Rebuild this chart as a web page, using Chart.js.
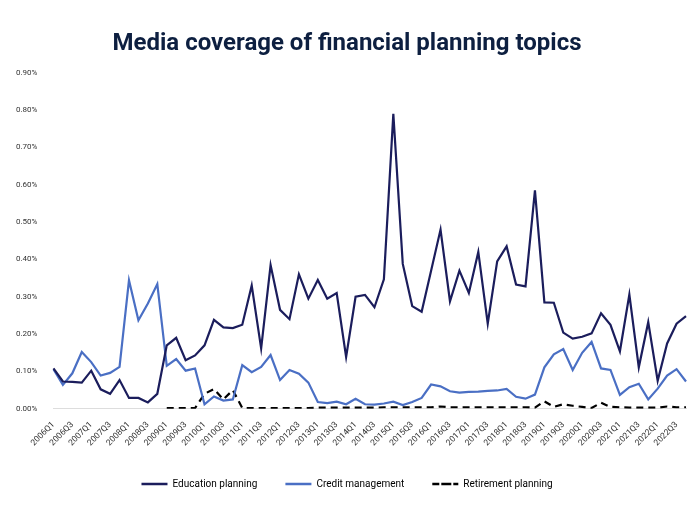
<!DOCTYPE html>
<html>
<head>
<meta charset="utf-8">
<script src="https://cdn.jsdelivr.net/npm/chart.js@4/dist/chart.umd.min.js"></script>
<style>
  body { margin: 0; background: #fff; }
  #wrap { width: 700px; height: 507px; }
</style>
</head>
<body>
<div id="wrap"><canvas id="chart"></canvas></div>
<script>
// quarters 2006Q1 .. 2022Q4
var quarters = [];
for (var y = 2006; y <= 2022; y++) {
    for (var q = 1; q <= 4; q++) quarters.push(y + 'Q' + q);
}

var education = [0.108, 0.073, 0.072, 0.070, 0.102, 0.052, 0.040, 0.077, 0.029, 0.029,
    0.017, 0.040, 0.170, 0.190, 0.130, 0.143, 0.170, 0.238, 0.218, 0.216,
    0.225, 0.330, 0.162, 0.385, 0.265, 0.240, 0.360, 0.295, 0.345, 0.295,
    0.310, 0.139, 0.300, 0.305, 0.272, 0.347, 0.790, 0.388, 0.275, 0.260,
    0.370, 0.480, 0.288, 0.370, 0.310, 0.420, 0.228, 0.395, 0.435, 0.333,
    0.328, 0.585, 0.285, 0.284, 0.204, 0.188, 0.193, 0.202, 0.256, 0.225,
    0.154, 0.306, 0.111, 0.232, 0.075, 0.175, 0.228, 0.248];

var credit = [0.106, 0.064, 0.095, 0.152, 0.125, 0.089, 0.096, 0.112, 0.344, 0.237,
    0.282, 0.334, 0.115, 0.133, 0.102, 0.108, 0.012, 0.033, 0.022, 0.025,
    0.117, 0.098, 0.112, 0.144, 0.077, 0.104, 0.094, 0.070, 0.018, 0.015,
    0.019, 0.012, 0.027, 0.012, 0.011, 0.014, 0.019, 0.010, 0.018, 0.029,
    0.065, 0.060, 0.047, 0.043, 0.045, 0.046, 0.048, 0.049, 0.053, 0.032,
    0.027, 0.038, 0.111, 0.146, 0.160, 0.104, 0.150, 0.179, 0.108, 0.104,
    0.037, 0.058, 0.067, 0.025, 0.054, 0.089, 0.106, 0.073];

var retirement = [null, null, null, null, null, null, null, null, null, null,
    null, null, 0.002, 0.002, 0.002, 0.002, 0.040, 0.053, 0.025, 0.050,
    0.002, 0.002, 0.002, 0.002, 0.002, 0.002, 0.002, 0.002, 0.003, 0.003,
    0.003, 0.003, 0.003, 0.003, 0.003, 0.004, 0.004, 0.004, 0.004, 0.004,
    0.004, 0.006, 0.004, 0.004, 0.004, 0.004, 0.004, 0.004, 0.004, 0.004,
    0.004, 0.003, 0.020, 0.005, 0.012, 0.008, 0.005, 0.002, 0.016, 0.005,
    0.004, 0.003, 0.003, 0.003, 0.003, 0.006, 0.004, 0.004];

var ctx = document.getElementById('chart').getContext('2d');
new Chart(ctx, {
    type: 'line',
    data: {
        labels: quarters,
        datasets: [
            { label: 'Education planning', data: education, borderColor: '#1b1d5c', backgroundColor: '#1b1d5c', borderWidth: 2.2 },
            { label: 'Credit management', data: credit, borderColor: '#4a6fc4', backgroundColor: '#4a6fc4', borderWidth: 2.2 },
            { label: 'Retirement planning', data: retirement, borderColor: '#000', backgroundColor: '#000', borderWidth: 2.2, borderDash: [7, 5] }
        ]
    },
    options: {
        responsive: true,
        maintainAspectRatio: false,
        animation: false,
        elements: { point: { radius: 0 }, line: { tension: 0 } },
        layout: { padding: { left: 8, right: 14, top: 30, bottom: 8 } },
        plugins: {
            tooltip: { enabled: false },
            title: {
                display: true,
                text: 'Media coverage of financial planning topics',
                color: '#0d1f40',
                font: { family: 'Liberation Sans Narrow, Roboto, sans-serif', size: 24, weight: 'bold' },
                padding: { bottom: 14 }
            },
            legend: {
                position: 'bottom',
                labels: {
                    color: '#222',
                    font: { family: 'Roboto, sans-serif', size: 10 },
                    boxWidth: 26, boxHeight: 0, padding: 28,
                    generateLabels: function (chart) {
                        return chart.data.datasets.map(function (d, i) {
                            return { text: d.label, strokeStyle: d.borderColor, fillStyle: d.borderColor,
                                lineWidth: 2.5, lineDash: d.borderDash || [], datasetIndex: i };
                        });
                    }
                }
            }
        },
        scales: {
            x: {
                grid: { display: false },
                border: { color: '#ddd' },
                ticks: {
                    autoSkip: false, maxRotation: 45, minRotation: 45,
                    color: '#333', font: { family: 'Roboto, sans-serif', size: 8.5 },
                    callback: function (v, i) { return i % 2 === 0 ? quarters[i] : ''; }
                }
            },
            y: {
                min: 0, max: 0.9,
                grid: { display: false },
                border: { display: false },
                ticks: {
                    stepSize: 0.1, color: '#333', padding: 8, font: { family: 'Roboto, sans-serif', size: 8 },
                    callback: function (v) { return v.toFixed(2) + '%'; }
                }
            }
        }
    }
});
</script>
</body>
</html>
